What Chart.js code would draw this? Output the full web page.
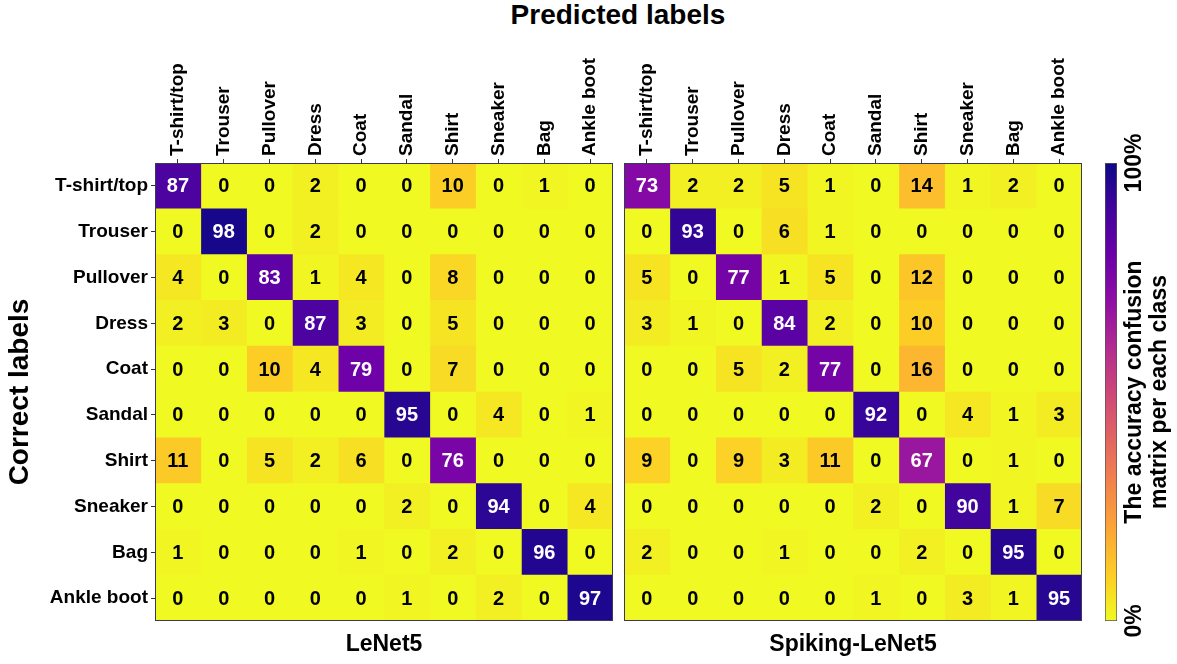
<!DOCTYPE html>
<html>
<head>
<meta charset="utf-8">
<script src="https://cdn.jsdelivr.net/npm/chart.js@4.4.1/dist/chart.umd.min.js"></script>
<style>
html, body { margin: 0; padding: 0; background: #fff; }
body { width: 1177px; height: 664px; position: relative; overflow: hidden; font-family: "Liberation Sans", Arial, sans-serif; }
canvas { position: absolute; top: 0; }
#supTitle { position: absolute; left: 0; top: 0; width: 1236px; text-align: center; font-weight: bold; font-size: 28px; line-height: 30px; color: #000; }
</style>
</head>
<body>
<div id="supTitle">Predicted labels</div>
<canvas id="leftChart" width="620" height="664" style="left:0px"></canvas>
<canvas id="rightChart" width="470" height="664" style="left:620px"></canvas>
<canvas id="barChart" width="87" height="664" style="left:1090px"></canvas>
<script>
"use strict";
const FONT = "'Liberation Sans', Arial, sans-serif";

// class names (rows = correct, columns = predicted)
const classNames = ["T-shirt/top", "Trouser", "Pullover", "Dress", "Coat", "Sandal", "Shirt", "Sneaker", "Bag", "Ankle boot"];
const predictedLabels = classNames.slice();

// accuracy per class, in %
const lenet5Matrix = [
    [87, 0, 0, 2, 0, 0, 10, 0, 1, 0],
    [0, 98, 0, 2, 0, 0, 0, 0, 0, 0],
    [4, 0, 83, 1, 4, 0, 8, 0, 0, 0],
    [2, 3, 0, 87, 3, 0, 5, 0, 0, 0],
    [0, 0, 10, 4, 79, 0, 7, 0, 0, 0],
    [0, 0, 0, 0, 0, 95, 0, 4, 0, 1],
    [11, 0, 5, 2, 6, 0, 76, 0, 0, 0],
    [0, 0, 0, 0, 0, 2, 0, 94, 0, 4],
    [1, 0, 0, 0, 1, 0, 2, 0, 96, 0],
    [0, 0, 0, 0, 0, 1, 0, 2, 0, 97],
];
const spikingMatrix = [
    [73, 2, 2, 5, 1, 0, 14, 1, 2, 0],
    [0, 93, 0, 6, 1, 0, 0, 0, 0, 0],
    [5, 0, 77, 1, 5, 0, 12, 0, 0, 0],
    [3, 1, 0, 84, 2, 0, 10, 0, 0, 0],
    [0, 0, 5, 2, 77, 0, 16, 0, 0, 0],
    [0, 0, 0, 0, 0, 92, 0, 4, 1, 3],
    [9, 0, 9, 3, 11, 0, 67, 0, 1, 0],
    [0, 0, 0, 0, 0, 2, 0, 90, 1, 7],
    [2, 0, 0, 1, 0, 0, 2, 0, 95, 0],
    [0, 0, 0, 0, 0, 1, 0, 3, 1, 95],
];
const colorbarRange = [0, 100];
const colorbarTicks = ["0%", "100%"];
const colorbarTitle = ["The accuracy confusion", "matrix per each class"];

// matplotlib plasma, 11 stops
const plasmaStops = [
    [13, 8, 135], [65, 4, 157], [106, 0, 168], [143, 13, 164], [177, 42, 144],
    [204, 71, 120], [225, 100, 98], [242, 132, 75], [252, 166, 54], [252, 206, 37], [240, 249, 33],
];
function plasma(t) {
    t = Math.min(1, Math.max(0, t));
    const p = t * (plasmaStops.length - 1);
    const i = Math.min(Math.floor(p), plasmaStops.length - 2);
    const f = p - i;
    const a = plasmaStops[i], b = plasmaStops[i + 1];
    const c = a.map((v, k) => Math.round(v + (b[k] - v) * f));
    return `rgb(${c[0]},${c[1]},${c[2]})`;
}
// reversed: 0% yellow, 100% dark blue
function cellColor(v) {
    return plasma(1 - v / 100);
}

const frameColor = "#3a3a58";
const TICK_SIZE = 19;

function makeCellLabels(matrix) {
    return {
        id: "cellLabels",
        afterDatasetsDraw(chart) {
            const ctx = chart.ctx;
            ctx.save();
            ctx.font = `bold 20px ${FONT}`;
            ctx.textAlign = "center";
            ctx.textBaseline = "middle";
            chart.data.datasets.forEach((ds, j) => {
                chart.getDatasetMeta(j).data.forEach((bar, i) => {
                    const v = matrix[i][j];
                    ctx.fillStyle = v > 50 ? "#fff" : "#000";
                    ctx.fillText(String(v), (bar.x + bar.base) / 2, bar.y + 1);
                });
            });
            const a = chart.chartArea;
            ctx.strokeStyle = frameColor;
            ctx.lineWidth = 1;
            ctx.strokeRect(a.left + 0.5, a.top + 0.5, a.width - 1, a.height - 1);
            ctx.restore();
        },
    };
}

function buildDatasets(matrix) {
    return predictedLabels.map((name, j) => ({
        label: name,
        xAxisID: "x",
        yAxisID: "y",
        data: classNames.map(() => [j, j + 1]),
        backgroundColor: matrix.map(row => cellColor(row[j])),
        borderWidth: 0,
        grouped: false,
        barPercentage: 1,
        categoryPercentage: 1,
    }));
}

function makeMatrixChart(canvas, matrix, title, showRows, padLeft, padRight) {
    return new Chart(canvas, {
        type: "bar",
        data: { labels: classNames, datasets: buildDatasets(matrix) },
        options: {
            indexAxis: "y",
            responsive: false,
            animation: false,
            layout: { padding: { left: padLeft, right: padRight, top: 0, bottom: 0 } },
            plugins: { legend: { display: false }, tooltip: { enabled: false } },
            scales: {
                x: { type: "linear", min: 0, max: 10, display: false },
                xTop: {
                    type: "category",
                    labels: predictedLabels,
                    position: "top",
                    offset: true,
                    grid: { offset: false, drawOnChartArea: false, tickLength: 4, color: "#333" },
                    border: { display: false },
                    ticks: {
                        font: { family: FONT, size: TICK_SIZE, weight: "bold" },
                        color: "#000",
                        minRotation: 90,
                        maxRotation: 90,
                        padding: 3,
                        autoSkip: false,
                        // rotated labels are pushed one line height to the left, put them back on the tick
                        labelOffset: TICK_SIZE * 1.2,
                    },
                    afterFit: s => { s.height = 163; },
                },
                xBottom: {
                    type: "category",
                    labels: predictedLabels,
                    position: "bottom",
                    grid: { display: false },
                    border: { display: false },
                    ticks: { display: false },
                    title: {
                        display: true,
                        text: title,
                        font: { family: FONT, size: 23, weight: "bold" },
                        color: "#000",
                        padding: { top: 0, bottom: 6 },
                    },
                    afterFit: s => { s.height = 43; },
                },
                y: {
                    type: "category",
                    position: "left",
                    offset: true,
                    display: showRows,
                    grid: { offset: false, drawOnChartArea: false, tickLength: 4, color: "#333" },
                    border: { display: false },
                    ticks: {
                        font: { family: FONT, size: TICK_SIZE, weight: "bold" },
                        color: "#000",
                        padding: 3,
                        autoSkip: false,
                    },
                    title: {
                        display: true,
                        text: "Correct labels",
                        font: { family: FONT, size: 28, weight: "bold" },
                        color: "#000",
                        padding: { top: 3, bottom: 0 },
                    },
                    afterFit: s => { s.width = showRows ? 155 : 0; },
                },
            },
        },
        plugins: [makeCellLabels(matrix)],
    });
}

makeMatrixChart(document.getElementById("leftChart"), lenet5Matrix, "LeNet5", true, 0, 7);
makeMatrixChart(document.getElementById("rightChart"), spikingMatrix, "Spiking-LeNet5", false, 4, 8);

// colorbar
function barGradient(chart) {
    const a = chart.chartArea;
    if (!a) return cellColor(50);
    const g = chart.ctx.createLinearGradient(0, a.bottom, 0, a.top);
    for (let k = 0; k <= 20; k++) {
        g.addColorStop(k / 20, cellColor(k * 5));
    }
    return g;
}
const colorbarText = {
    id: "colorbarText",
    afterDraw(chart) {
        const ctx = chart.ctx;
        const a = chart.chartArea;
        function vText(text, x, y) {
            ctx.save();
            ctx.translate(x, y);
            ctx.rotate(-Math.PI / 2);
            ctx.textAlign = "center";
            ctx.textBaseline = "middle";
            ctx.fillText(text, 0, 0);
            ctx.restore();
        }
        ctx.save();
        ctx.font = `bold 23px ${FONT}`;
        ctx.fillStyle = "#000";
        vText(colorbarTicks[0], a.right + 18, a.bottom);
        vText(colorbarTicks[1], a.right + 18, a.top);
        const mid = (a.top + a.bottom) / 2;
        vText(colorbarTitle[0], a.right + 18, mid);
        vText(colorbarTitle[1], a.right + 43, mid);
        ctx.restore();
    },
};
new Chart(document.getElementById("barChart"), {
    type: "bar",
    data: {
        labels: [""],
        datasets: [{
            data: [colorbarRange],
            backgroundColor: ctx => barGradient(ctx.chart),
            borderColor: "#555",
            borderWidth: 1,
            borderSkipped: false,
            barPercentage: 1,
            categoryPercentage: 1,
        }],
    },
    options: {
        responsive: false,
        animation: false,
        layout: { padding: { left: 15, right: 60, top: 163, bottom: 43 } },
        plugins: { legend: { display: false }, tooltip: { enabled: false } },
        scales: {
            x: { display: false },
            y: { display: false, min: 0, max: 100 },
        },
    },
    plugins: [colorbarText],
});
</script>
</body>
</html>
